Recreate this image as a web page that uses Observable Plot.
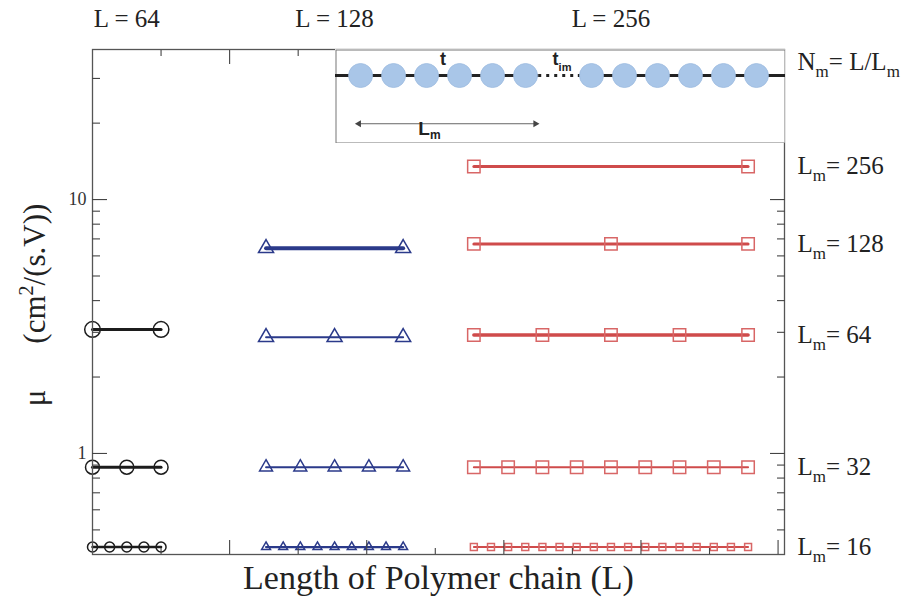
<!DOCTYPE html>
<html>
<head>
<meta charset="utf-8">
<script src="https://cdn.jsdelivr.net/npm/d3@7"></script>
<script src="https://cdn.jsdelivr.net/npm/@observablehq/plot@0.6"></script>
<style>
  body { margin: 0; background: #fff; }
  #chart { position: relative; width: 911px; height: 597px; }
  #inset { position: absolute; left: 335px; top: 49px; }
</style>
</head>
<body>
<div id="chart"></div>
<script>
// Mobility μ of polymer chains of length L cut into molecules of length Lm
const chainLengths = [64, 128, 256];
const chainStart = [0, 162, 356];          // monomer offset at which each chain is laid out
const segmentLengths = [16, 32, 64, 128, 256];
const mobilityL64 = [0.428, 0.883, 3.08];
const mobilityL128 = [0.428, 0.883, 2.87, 6.43];
const mobilityL256 = [0.428, 0.883, 2.93, 6.69, 13.5];

const yMajorTicks = [1, 10];
const yMinorTicks = [0.5, 0.6, 0.7, 0.8, 0.9, 2, 3, 4, 5, 6, 7, 8, 9, 20, 30];
const xMajorTicks = [128, 256, 384, 512, 640];
const xMinorTicks = [64, 192, 320, 448, 576];

// chain model sketch: bead positions along the backbone (gap = inter-molecule hop)
const beadIndex = [0, 1, 2, 3, 4, 5, 7, 8, 9, 10, 11, 12];
const backboneSolid = [[-0.8, 5.4], [6.6, 12.9]];
const backboneHop = [[5.4, 6.6]];
const lmSpan = [-0.05, 5.3];

// ---- styles ----
const serif = "Liberation Serif, Times New Roman, serif";
const sans = "Liberation Sans, Arial, sans-serif";
const lineColor = ["#1c1c1c", "#2b3a8a", "#cf4b4b"];
const markColor = ["#1c1c1c", "#2b3a8a", "#d86666"];
const markSymbol = ["circle", "triangle", "square"];
const markR = [[5, 7, 7.8], [3.3, 4.8, 5.6, 5.6], [3.9, 7, 7, 7, 7]];
const lineW = [[2.5, 3, 3], [2.2, 2, 2, 4], [2, 2, 3.5, 3, 3]];

const mobility = [mobilityL64, mobilityL128, mobilityL256];
const series = chainLengths.flatMap((L, c) =>
  mobility[c].map((mu, s) => {
    const Lm = segmentLengths[s];
    const pts = d3.range(L / Lm + 1).map(k => ({x: chainStart[c] + k * Lm, y: mu}));
    return {c, s, pts};
  })
);

const seriesMarks = series.flatMap(({c, s, pts}) => [
  Plot.line(pts, {x: "x", y: "y", stroke: lineColor[c], strokeWidth: lineW[c][s]}),
  Plot.dot(pts, {x: "x", y: "y", symbol: markSymbol[c], r: markR[c][s],
                 stroke: markColor[c], strokeWidth: 1.5, fill: "none"})
]);

const axisStyle = {stroke: "#444", strokeWidth: 1.1, label: null};

const chart = Plot.plot({
  width: 911,
  height: 597,
  marginLeft: 92,
  marginRight: 127,
  marginTop: 49,
  marginBottom: 43,
  x: {domain: [0, 646], axis: null},
  y: {type: "log", domain: [0.4, 39], axis: null},
  style: {fontFamily: serif, background: "transparent", color: "#222"},
  marks: [
    ...seriesMarks,
    Plot.frame({stroke: "#555", strokeWidth: 1.3}),
    // inward tick marks on all four sides
    Plot.axisY({...axisStyle, anchor: "left", ticks: yMajorTicks, tickSize: -15, fill: "none"}),
    Plot.axisY({...axisStyle, anchor: "left", ticks: yMinorTicks, tickSize: -8, fill: "none"}),
    Plot.axisY({...axisStyle, anchor: "right", ticks: yMajorTicks, tickSize: -15, fill: "none"}),
    Plot.axisY({...axisStyle, anchor: "right", ticks: yMinorTicks, tickSize: -8, fill: "none"}),
    Plot.axisX({...axisStyle, anchor: "bottom", ticks: xMajorTicks, tickSize: -14, fill: "none"}),
    Plot.axisX({...axisStyle, anchor: "bottom", ticks: xMinorTicks, tickSize: -6, fill: "none"}),
    Plot.axisX({...axisStyle, anchor: "top", ticks: xMajorTicks, tickSize: -14, fill: "none"}),
    Plot.axisX({...axisStyle, anchor: "top", ticks: xMinorTicks, tickSize: -6, fill: "none"}),
    Plot.axisY({anchor: "left", ticks: yMajorTicks, tickSize: 0, tickPadding: 6,
                tickFormat: d => String(d), fontSize: 18, label: null, fill: "#333"}),
    // chain length headers
    Plot.text(chainLengths, {x: (d, i) => chainStart[i] + d / 2, text: d => `L = ${d}`,
                             frameAnchor: "top", lineAnchor: "middle", dy: -31,
                             fontSize: 25, fill: "#222"}),
    // molecule length labels beside each row
    Plot.text(segmentLengths, {y: (d, i) => mobilityL256[i], text: d => String(d),
                               frameAnchor: "right", dx: 13, textAnchor: "start",
                               fontSize: 25, fill: "#222", className: "lm-label"}),
    Plot.text(["N"], {frameAnchor: "top-right", dx: 13, dy: 3, textAnchor: "start",
                      fontSize: 25, fill: "#222", className: "nm-label"}),
    // axis titles
    Plot.text(["Length of Polymer chain (L)"], {frameAnchor: "bottom", lineAnchor: "middle",
                                                dy: 24, fontSize: 34, fill: "#222"}),
    Plot.text(["μ"], {frameAnchor: "left", textAnchor: "middle", lineAnchor: "middle",
                      dx: -57, dy: 3, rotate: -90, fontSize: 31,
                      fill: "#222", className: "y-label"})
  ]
});

function richText(root, cls, build) {
  d3.select(root).selectAll(`.${cls} text`).each(function(_, i) {
    const t = d3.select(this);
    const raw = t.text();
    t.text(null);
    for (const [s, attrs = {}] of build(raw, i)) {
      const ts = t.append("tspan").text(s);
      for (const k in attrs) ts.attr(k, attrs[k]);
    }
  });
}

const sub = {dy: 7, "font-size": 17};
const unsub = {dy: -7};
richText(chart, "lm-label", raw => [["L"], ["m", sub], ["= " + raw, unsub]]);
richText(chart, "nm-label", () => [["N"], ["m", sub], ["= L/L", unsub], ["m", sub]]);
richText(chart, "y-label", raw => [[raw], ["(cm", {dx: 46}], ["2", {dy: -12, "font-size": 20}],
                                   ["/(s.V))", {dy: 12}]]);

// chain model sketch
const inset = Plot.plot({
  width: 450,
  height: 94,
  margin: 0,
  x: {domain: [-0.76, 12.88], axis: null},
  y: {domain: [-1.41, 0.54], axis: null},
  style: {background: "#fff", fontFamily: sans},
  marks: [
    Plot.frame({stroke: "#777", strokeWidth: 1, inset: 0.5}),
    Plot.ruleY(backboneSolid, {y: 0, x1: d => d[0], x2: d => d[1], stroke: "#222", strokeWidth: 3}),
    Plot.ruleY(backboneHop, {y: 0, x1: d => d[0], x2: d => d[1], stroke: "#222",
                             strokeWidth: 3, strokeDasharray: "3,5"}),
    Plot.dot(beadIndex, {x: d => d, y: 0, r: 12, fill: "#a9c6e8", stroke: "#9dbbe0", strokeWidth: 0.8}),
    Plot.text(["t"], {x: 2.5, y: 0, dy: -16, fontSize: 18, fontWeight: "bold", fill: "#222"}),
    Plot.text(["t"], {x: 5.82, y: 0, dy: -16, fontSize: 18, fontWeight: "bold", fill: "#222",
                      textAnchor: "start", className: "tim-label"}),
    // double-headed span of one molecule
    Plot.ruleY([lmSpan], {y: -1, x1: d => d[0], x2: d => d[1], stroke: "#666", strokeWidth: 1}),
    Plot.dot(lmSpan, {x: d => d, y: -1, symbol: "triangle", r: 2.6, fill: "#444", stroke: "none",
                      rotate: d => (d < lmSpan[1] ? -90 : 90)}),
    Plot.text(["L"], {x: 1.75, y: -1, dy: 5, fontSize: 19, fontWeight: "bold", fill: "#222",
                      textAnchor: "start", className: "lm-sketch"})
  ]
});
inset.id = "inset";
richText(inset, "tim-label", raw => [[raw], ["im", {dy: 6, "font-size": 11}]]);
richText(inset, "lm-sketch", raw => [[raw], ["m", {dy: 4, "font-size": 12}]]);

const host = document.getElementById("chart");
host.append(chart);
host.append(inset);
</script>
</body>
</html>
